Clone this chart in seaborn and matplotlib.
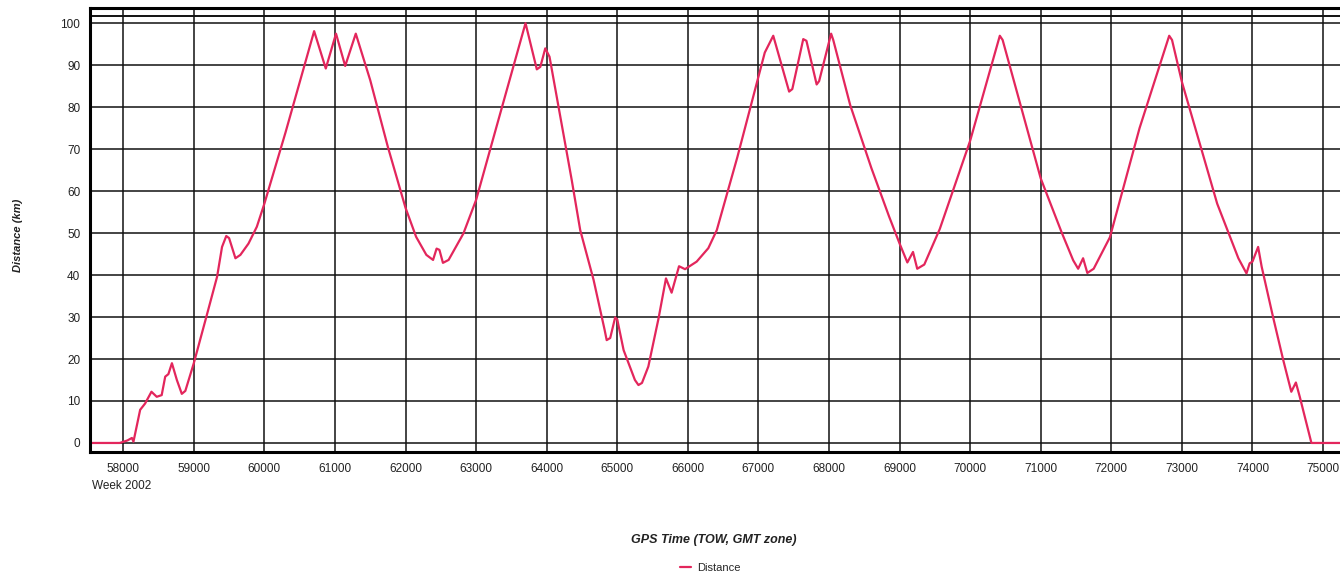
import pandas as pd
import numpy as np
import matplotlib
matplotlib.use("Agg")
import matplotlib.pyplot as plt
import seaborn as sns

# GPS time of week (s) and distance (km)
tow = [57530, 57950, 58060, 58123, 58145, 58240, 58310, 58400, 58475, 58545,
       58595, 58640, 58690, 58760, 58830, 58880, 59000, 59185, 59330, 59400,
       59460, 59500, 59590, 59660, 59775, 59893, 60000, 60300, 60705, 60870,
       61015, 61145, 61295, 61500, 61750, 62000, 62150, 62295, 62390, 62440,
       62480, 62530, 62610, 62820, 63000, 63300, 63700, 63860, 63910, 63980,
       64040, 64355, 64475, 64665, 64820, 64850, 64900, 64970, 65000, 65090,
       65250, 65300, 65350, 65440, 65585, 65690, 65770, 65875, 65960, 66125,
       66290, 66410, 66700, 67090, 67210, 67435, 67480, 67635, 67680, 67825,
       67860, 68030, 68060, 68300, 68600, 68850, 69000, 69110, 69190, 69250,
       69350, 69570, 70000, 70420, 70460, 71000, 71300, 71460, 71530, 71600,
       71660, 71750, 71980, 72400, 72820, 72860, 73000, 73500, 73800, 73915,
       73960, 74000, 74080, 74130, 74290, 74435, 74550, 74615, 74670, 74835,
       75240]
distance = [0.0, 0.0, 0.6, 1.2, 0.3, 7.9, 9.4, 12.2, 11.0, 11.4,
            15.8, 16.4, 19.0, 15.0, 11.7, 12.4, 19.0, 30.5, 39.6, 46.7,
            49.3, 48.8, 44.0, 44.8, 47.5, 51.5, 57.0, 74.0, 98.1, 89.2,
            97.5, 89.8, 97.5, 86.4, 70.5, 56.0, 49.1, 44.8, 43.6, 46.3,
            46.0, 42.9, 43.6, 49.9, 57.9, 76.0, 100.0, 89.0, 89.6, 94.0,
            92.0, 62.6, 50.7, 38.8, 27.0, 24.5, 25.0, 29.9, 29.4, 22.1,
            15.0, 13.8, 14.3, 18.2, 29.7, 39.2, 35.8, 42.1, 41.4, 43.2,
            46.4, 50.7, 68.0, 93.0, 97.0, 83.7, 84.3, 96.2, 95.8, 85.4,
            86.2, 97.5, 96.0, 80.5, 65.5, 54.0, 47.5, 43.0, 45.5, 41.5,
            42.5, 51.0, 72.0, 97.0, 96.0, 63.0, 50.0, 43.5, 41.5, 44.0,
            40.5, 41.5, 49.0, 75.0, 97.0, 96.0, 86.0, 57.0, 44.0, 40.4,
            42.8, 43.2, 46.7, 42.0, 30.1, 19.8, 12.2, 14.4, 11.0, 0.0,
            0.0]

df = pd.DataFrame({"tow": tow, "distance": distance})

sns.set_style("white")
plt.rcParams["font.family"] = ["Liberation Sans", "DejaVu Sans"]

fig = plt.figure(figsize=(13.4, 5.75), dpi=100)
ax = fig.add_axes([0.0672, 0.214, 0.9328, 0.772])

sns.lineplot(data=df, x="tow", y="distance", ax=ax, color="#E3265C",
             linewidth=1.6, label="Distance")

ax.set_xlim(57530, 75240)
ax.set_ylim(-2.14, 103.6)
ax.set_xticks(range(58000, 75001, 1000))
ax.set_yticks(range(0, 101, 10))
ax.grid(True, color="#111111", linewidth=1.1)
ax.set_axisbelow(True)
ax.axhline(101.75, color="#111111", linewidth=1.4)

for side in ["left", "bottom", "top"]:
    ax.spines[side].set_linewidth(2.2)
    ax.spines[side].set_color("black")
ax.spines["right"].set_visible(False)

ax.tick_params(axis="both", labelsize=8.5, length=5, width=1, color="black",
               direction="out", labelcolor="#222222", pad=3)
ax.tick_params(axis="y", length=4)

ax.set_xlabel("")
ax.set_ylabel("")
fig.text(0.533, 0.06, "GPS Time (TOW, GMT zone)", ha="center", va="center",
         fontsize=9, fontweight="bold", fontstyle="italic", color="#222222")
fig.text(0.0135, 0.59, "Distance (km)", ha="center", va="center", rotation=90,
         fontsize=8, fontweight="bold", fontstyle="italic", color="#222222")
fig.text(0.0685, 0.155, "Week 2002", ha="left", va="center", fontsize=8.5,
         color="#222222")

ax.legend(loc="center", bbox_to_anchor=(0.53, 0.012), bbox_transform=fig.transFigure,
          frameon=False, fontsize=8, handlelength=1.0, handletextpad=0.5)

fig.savefig("out.png", dpi=100)
